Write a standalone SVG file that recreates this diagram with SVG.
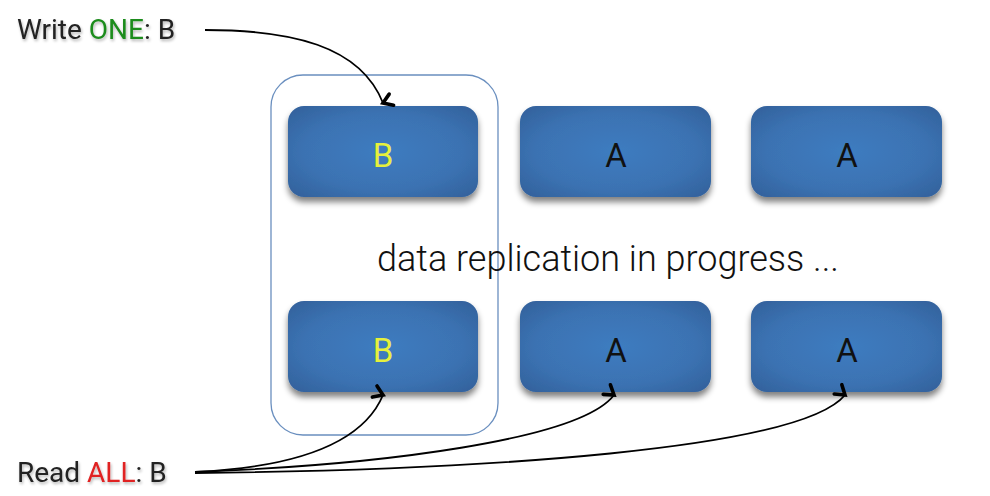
<svg xmlns="http://www.w3.org/2000/svg" width="990" height="496" viewBox="0 0 990 496">
  <defs>
    <radialGradient id="boxFill" cx="0.5" cy="0.5" r="0.7">
      <stop offset="0" stop-color="#3e7cc0"/>
      <stop offset="0.6" stop-color="#3b72b2"/>
      <stop offset="1" stop-color="#32609a"/>
    </radialGradient>
    <filter id="shadow" x="-10%" y="-10%" width="120%" height="135%">
      <feGaussianBlur in="SourceAlpha" stdDeviation="3"/>
      <feOffset dy="5" result="b"/>
      <feComponentTransfer><feFuncA type="linear" slope="0.5"/></feComponentTransfer>
      <feMerge><feMergeNode/><feMergeNode in="SourceGraphic"/></feMerge>
    </filter>
    <filter id="textShadow" x="-5%" y="-20%" width="110%" height="160%">
      <feGaussianBlur in="SourceAlpha" stdDeviation="1.5"/>
      <feOffset dx="1" dy="2"/>
      <feComponentTransfer><feFuncA type="linear" slope="0.3"/></feComponentTransfer>
      <feMerge><feMergeNode/><feMergeNode in="SourceGraphic"/></feMerge>
    </filter>
    <marker id="vhead" viewBox="0 0 16 16" refX="8" refY="13" markerWidth="16" markerHeight="16" markerUnits="userSpaceOnUse" orient="auto">
      <path d="M2,4 L8,13 L14,4" fill="none" stroke="#000" stroke-width="3.6" stroke-linejoin="miter" stroke-linecap="round"/>
    </marker>
  </defs>
  <style>
    .box { fill: url(#boxFill); filter: url(#shadow); }
    .lbl { font-family: Roboto, "Liberation Sans", sans-serif; font-size: 33px; text-anchor: middle; }
    .lblB { fill: #e6f03c; }
    .lblA { fill: #111; }
    .cap { font-family: Roboto, "Liberation Sans", sans-serif; font-size: 28px; fill: #222; filter: url(#textShadow); }
    .conn { fill: none; stroke: #000; stroke-width: 1.8; }
  </style>
  <rect width="990" height="496" fill="#fff"/>

  <!-- outline around the column holding B -->
  <rect id="group" x="271" y="75" width="227" height="360" rx="32" fill="none" stroke="#6a8fbf" stroke-width="1.3"/>

  <g id="n1"><rect class="box" x="288" y="106" width="190" height="91" rx="16"/><text class="lbl lblB" x="383" y="167">B</text></g>
  <g id="n2"><rect class="box" x="520" y="106" width="191" height="91" rx="16"/><text class="lbl lblA" x="616" y="167">A</text></g>
  <g id="n3"><rect class="box" x="751" y="106" width="191" height="91" rx="16"/><text class="lbl lblA" x="847" y="167">A</text></g>
  <g id="n4"><rect class="box" x="288" y="301" width="190" height="91" rx="16"/><text class="lbl lblB" x="383" y="362">B</text></g>
  <g id="n5"><rect class="box" x="520" y="301" width="191" height="91" rx="16"/><text class="lbl lblA" x="616" y="362">A</text></g>
  <g id="n6"><rect class="box" x="751" y="301" width="191" height="91" rx="16"/><text class="lbl lblA" x="847" y="362">A</text></g>

  <text x="608" y="271" font-family="Roboto, 'Liberation Sans', sans-serif" font-size="36" font-weight="300" fill="#111" text-anchor="middle">data replication in progress ...</text>

  <g id="write-label"><text class="cap" x="17" y="39">Write <tspan fill="#1e8c1e">ONE</tspan>: B</text></g>
  <g id="read-label"><text class="cap" x="17" y="482">Read <tspan fill="#e02020">ALL</tspan>: B</text></g>

  <g id="connectors">
    <path class="conn" d="M205,30 C290,30 360,45 383,103" marker-end="url(#vhead)"/>
    <path class="conn" d="M195,472 C280,468 360,450 383,395" marker-end="url(#vhead)"/>
    <path class="conn" d="M195,472 C380,465 580,440 614,395" marker-end="url(#vhead)"/>
    <path class="conn" d="M195,473 C480,470 800,450 845,395" marker-end="url(#vhead)"/>
  </g>
</svg>
